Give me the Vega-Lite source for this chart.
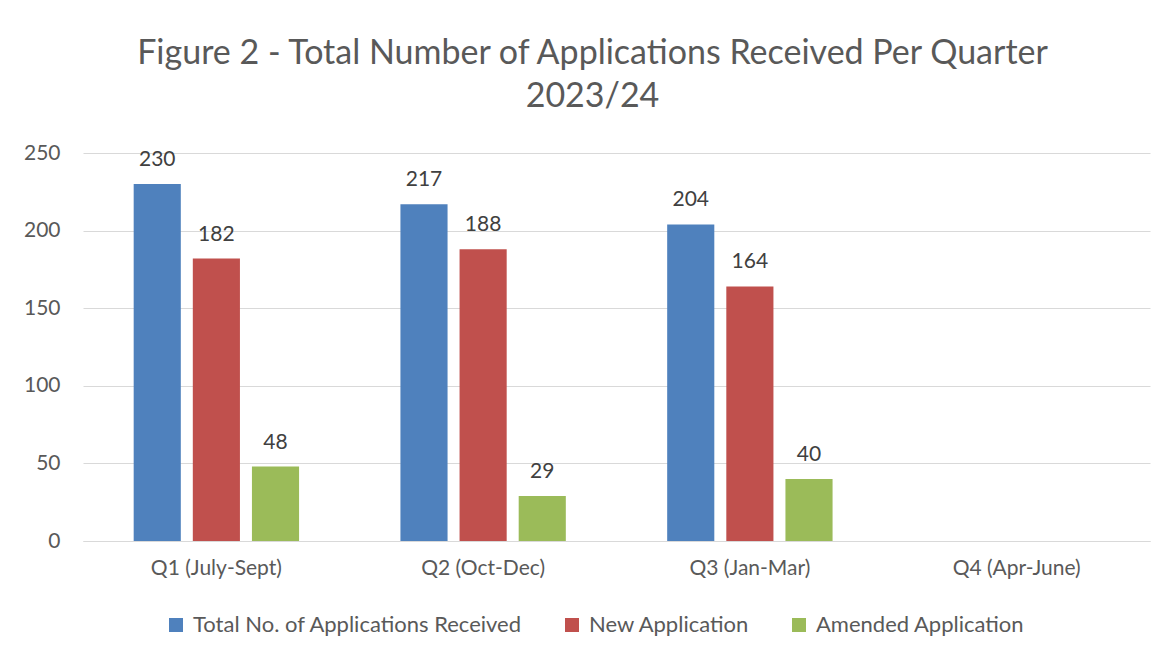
{
  "$schema": "https://vega.github.io/schema/vega-lite/v6.json",
  "width": 1067,
  "height": 388,
  "autosize": {"type": "none"},
  "padding": {"left": 83, "top": 153, "right": 26, "bottom": 115},
  "background": "white",
  "title": {
    "text": ["Figure 2 - Total Number of Applications Received Per Quarter", "2023/24"],
    "font": "Lato",
    "fontSize": 34,
    "fontWeight": "normal",
    "color": "#595959",
    "anchor": "middle",
    "frame": "group",
    "baseline": "bottom",
    "lineHeight": 43,
    "offset": 38,
    "dy": 44,
    "dx": -24
  },
  "data": {
    "values": [
      {"quarter": "Q1 (July-Sept)", "series": "Total No. of Applications Received", "value": 230},
      {"quarter": "Q1 (July-Sept)", "series": "New Application", "value": 182},
      {"quarter": "Q1 (July-Sept)", "series": "Amended Application", "value": 48},
      {"quarter": "Q2 (Oct-Dec)", "series": "Total No. of Applications Received", "value": 217},
      {"quarter": "Q2 (Oct-Dec)", "series": "New Application", "value": 188},
      {"quarter": "Q2 (Oct-Dec)", "series": "Amended Application", "value": 29},
      {"quarter": "Q3 (Jan-Mar)", "series": "Total No. of Applications Received", "value": 204},
      {"quarter": "Q3 (Jan-Mar)", "series": "New Application", "value": 164},
      {"quarter": "Q3 (Jan-Mar)", "series": "Amended Application", "value": 40}
    ]
  },
  "encoding": {
    "x": {
      "field": "quarter",
      "type": "nominal",
      "sort": null,
      "scale": {
        "domain": ["Q1 (July-Sept)", "Q2 (Oct-Dec)", "Q3 (Jan-Mar)", "Q4 (Apr-June)"],
        "paddingInner": 0.38,
        "paddingOuter": 0.19
      },
      "axis": {
        "title": null,
        "labelAngle": 0,
        "labelFont": "Lato",
        "labelFontSize": 21,
        "labelColor": "#595959",
        "labelPadding": 16,
        "ticks": false,
        "domain": true,
        "domainColor": "#d9d9d9",
        "domainWidth": 1,
        "grid": false
      }
    },
    "xOffset": {
      "field": "series",
      "type": "nominal",
      "sort": ["Total No. of Applications Received", "New Application", "Amended Application"],
      "scale": {"paddingInner": 0.203, "paddingOuter": 0}
    },
    "y": {
      "field": "value",
      "type": "quantitative",
      "scale": {"domain": [0, 250]},
      "axis": {
        "title": null,
        "values": [0, 50, 100, 150, 200, 250],
        "labelFont": "Lato",
        "labelFontSize": 21,
        "labelColor": "#595959",
        "labelPadding": 23,
        "ticks": false,
        "domain": false,
        "grid": true,
        "gridColor": "#d9d9d9",
        "gridWidth": 1
      }
    }
  },
  "layer": [
    {
      "mark": {"type": "bar"},
      "encoding": {
        "color": {
          "field": "series",
          "type": "nominal",
          "sort": ["Total No. of Applications Received", "New Application", "Amended Application"],
          "scale": {
            "domain": ["Total No. of Applications Received", "New Application", "Amended Application"],
            "range": ["#4f81bd", "#c0504d", "#9bbb59"]
          },
          "legend": {
            "title": null,
            "orient": "none",
            "direction": "horizontal",
            "legendX": 82,
            "legendY": 461,
            "symbolType": "square",
            "symbolSize": 196,
            "symbolStrokeWidth": 0,
            "symbolOpacity": 1,
            "labelFont": "Lato",
            "labelFontSize": 22,
            "labelColor": "#595959",
            "labelOffset": 6,
            "columnPadding": 38,
            "labelLimit": 0
          }
        }
      }
    },
    {
      "mark": {
        "type": "text",
        "baseline": "alphabetic",
        "dy": -18,
        "font": "Lato",
        "fontSize": 21,
        "color": "#404040"
      },
      "encoding": {
        "text": {"field": "value", "type": "quantitative"}
      }
    }
  ],
  "config": {
    "view": {"stroke": null}
  }
}
